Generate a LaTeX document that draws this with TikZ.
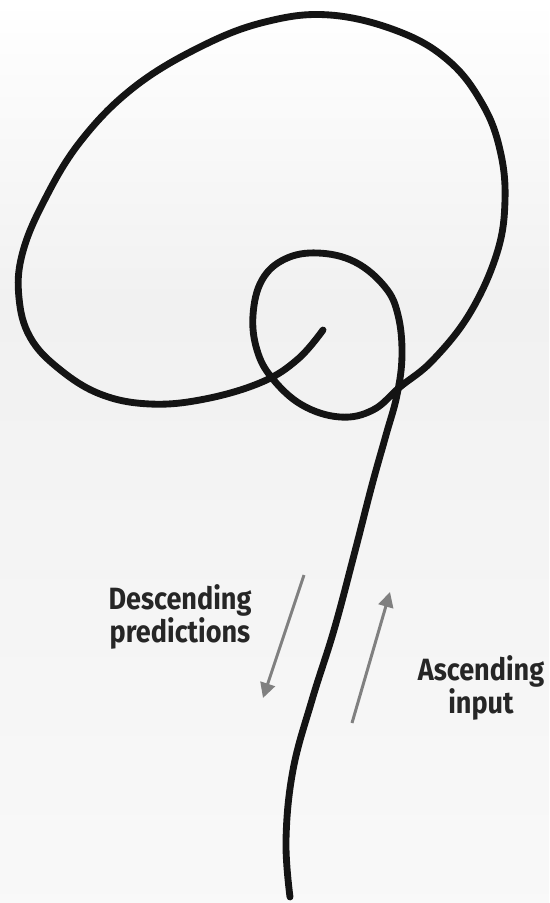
\documentclass[tikz,border=0pt]{standalone}
\usepackage{fontspec}
\newfontfamily\labelfont{Fira Sans}[FakeStretch=0.88]
\usepackage{tikz}
\usetikzlibrary{positioning,arrows.meta,calc}

\begin{document}
\begin{tikzpicture}[x=0.02cm,y=-0.02cm,
  brain/.style={line width=3.9pt, line cap=round, line join=round, black!92},
  flow/.style={line width=1.7pt, black!50, -{Triangle[length=0.3cm,width=0.3cm]}},
  caption/.style={font=\labelfont\bfseries\fontsize{17.5}{19}\selectfont, text=black!85, align=center, inner sep=0pt}
]
  % background
  \useasboundingbox (0,0) rectangle (549,903);
  \shade[top color=white, bottom color=gray!11] (0,0) rectangle (549,300);
  \shade[top color=gray!11, bottom color=gray!5] (0,300) rectangle (549,903);

  % the spine and the two loops
  \draw[brain] plot[smooth, tension=0.65] coordinates {
    (290,897) (286,840) (293,770) (312,700) (334,630) (354,555)
    (372,485) (386,435) (397,395) (402,355) (398,315)
    (385,287) (355,262) (318,253) (285,259) (262,280)
    (253,315) (257,350) (272,378) (302,405) (340,417) (373,410)
    (400,387) (433,360) (470,313) (497,253) (505,200) (500,150)
    (483,105) (450,62) (400,32) (330,15) (265,22) (200,47) (133,88)
    (80,142) (43,203) (22,255) (19,298) (30,337) (58,368) (100,394)
    (150,404) (205,399) (262,382) (298,359) (323,330)
  };

  % labels
  \node[caption] (desc) at (180,617) {Descending\\predictions};
  \node[caption] (asc) at (481,688) {Ascending\\input};

  % arrows
  \coordinate (d1) at (304,575);
  \coordinate (d2) at (263,698);
  \coordinate (a1) at (352,723);
  \coordinate (a2) at (390,592);
  \draw[flow] (d1) -- (d2);
  \draw[flow] (a1) -- (a2);
\end{tikzpicture}
\end{document}
